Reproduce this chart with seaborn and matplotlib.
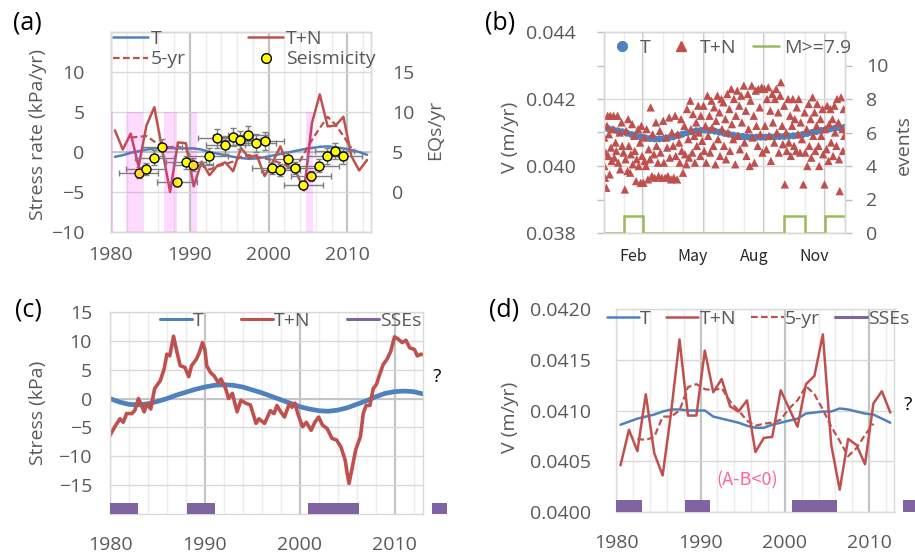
import numpy as np
import seaborn as sns
import matplotlib.pyplot as plt
from matplotlib.lines import Line2D
from matplotlib.ticker import MultipleLocator, FixedLocator, FormatStrFormatter

# -----------------
# Data
# -----------------
yr = np.arange(1980.5, 2013.0, 1.0)          # yearly points 1980.5 .. 2012.5
yr5 = np.arange(1982.5, 2011.0, 1.0)         # 5-yr running values 1982.5 .. 2010.5

# (a) stress rate, kPa/yr
a_t = [-0.6, -0.4, -0.1, 0.1, 0.3, 0.45, 0.5, 0.5, 0.45, 0.45, 0.45, 0.3, 0.0, -0.2, -0.4,
       -0.6, -0.75, -0.85, -0.8, -0.65, -0.45, -0.25, -0.05, 0.15, 0.35, 0.5, 0.65, 0.7,
       0.6, 0.45, 0.25, 0.0, -0.35]
a_tn = [2.7, 0.3, 2.3, -1.8, 3.3, 5.6, 0.3, -5.0, 1.2, 1.1, -4.3, -1.2, -2.9, -1.7, -1.3,
        -2.4, 0.5, -0.7, -0.4, -3.0, -1.3, 0.7, -1.9, -2.5, -4.8, 3.6, 7.2, 3.2, 3.3, 4.4,
        -0.5, -2.3, -1.0]
a_5yr = [1.8, 1.9, 2.0, 1.3, 0.6, 0.6, 0.7, 0.3, -1.2, -1.7, -2.2, -1.8, -1.5, -1.2, -0.6,
         -0.4, -0.6, -0.8, -1.0, -1.4, -1.8, -2.0, -0.2, 1.5, 3.0, 4.4, 3.4, 2.0, 0.5]
seis_year = [1983.5, 1984.4, 1985.5, 1986.5, 1988.4, 1989.5, 1990.4, 1992.4, 1993.5, 1994.5,
             1995.5, 1996.4, 1997.4, 1998.4, 1999.5, 2000.4, 2001.5, 2002.5, 2003.4, 2004.4,
             2005.4, 2006.4, 2007.4, 2008.4, 2009.4]
seis_rate = [2.4, 2.9, 4.3, 5.6, 1.2, 3.7, 3.4, 4.5, 6.7, 5.9, 6.9, 6.5, 7.1, 6.1, 6.4, 3.0,
             2.7, 4.1, 3.0, 0.9, 2.0, 3.3, 4.5, 5.1, 4.5]
seis_yerr = [0.7, 0.75, 0.9, 1.05, 0.5, 0.85, 0.8, 0.95, 1.15, 1.1, 1.15, 1.15, 1.2, 1.1, 1.15,
             0.8, 0.75, 0.9, 0.8, 0.45, 0.65, 0.8, 0.95, 1.0, 0.95]
seis_xerr = 2.5
pink_start = [1980.0, 1981.9, 1986.7, 1990.1, 2004.7]
pink_end = [1980.3, 1984.1, 1988.4, 1990.9, 2005.6]

# (b) velocity through one year (day of year)
t_day = list(range(0, 365, 7))
t_val = [0.04113, 0.04111, 0.04108, 0.04105, 0.04102, 0.04098, 0.04094, 0.04090, 0.04087,
         0.04084, 0.04082, 0.04081, 0.04081, 0.04082, 0.04084, 0.04087, 0.04091, 0.04095,
         0.04099, 0.04102, 0.04105, 0.04106, 0.04107, 0.04106, 0.04104, 0.04101, 0.04098,
         0.04095, 0.04092, 0.04090, 0.04088, 0.04087, 0.04086, 0.04086, 0.04086, 0.04086,
         0.04087, 0.04087, 0.04088, 0.04088, 0.04089, 0.04090, 0.04092, 0.04094, 0.04097,
         0.04100, 0.04103, 0.04106, 0.04109, 0.04111, 0.04113, 0.04114, 0.04115]
tn_day = [
    1, 1, 2, 3, 4, 5, 6, 7, 8, 9, 10, 11, 12, 14, 15, 16, 18, 19, 21, 22, 24, 25, 27, 28, 30,
    32, 33, 34, 36, 37, 38, 40, 41, 43, 44, 46, 47, 49, 50, 52, 53, 55, 56, 57, 58,
    60, 61, 62, 64, 65, 67, 68, 70, 71, 73, 74, 76, 77, 79, 80, 82, 83, 85, 86, 88,
    90, 91, 93, 94, 96, 97, 99, 100, 102, 103, 105, 106, 108, 109, 111, 112, 114, 115, 117, 118,
    120, 122, 123, 125, 126, 128, 129, 131, 132, 134, 135, 137, 138, 140, 141, 143, 144, 146, 147, 149,
    151, 152, 154, 155, 157, 158, 160, 161, 163, 164, 166, 167, 169, 170, 172, 173, 175, 176, 178, 179,
    181, 182, 184, 185, 187, 188, 190, 191, 193, 194, 196, 197, 199, 200, 202, 203, 205, 206, 208, 209,
    212, 213, 215, 216, 218, 219, 221, 222, 224, 225, 227, 228, 230, 231, 233, 234, 236, 237, 239, 240,
    243, 244, 246, 247, 249, 250, 252, 253, 255, 256, 258, 259, 261, 262, 264, 265, 267, 268, 270, 271,
    273, 274, 276, 277, 279, 280, 282, 283, 285, 286, 288, 289, 291, 292, 294, 295, 297, 298, 300, 302,
    304, 305, 307, 308, 310, 311, 313, 314, 316, 317, 319, 320, 322, 323, 325, 326, 328, 329, 331, 332,
    334, 335, 337, 338, 340, 341, 343, 344, 346, 347, 349, 350, 352, 353, 355, 356, 357, 359, 361, 362,
    363, 364]
tn_val = [
    0.04085, 0.04000, 0.03965, 0.04040, 0.03935, 0.04120, 0.04150, 0.04030, 0.04095, 0.03975,
    0.04150, 0.04055, 0.04015, 0.04110, 0.04150, 0.04025, 0.04070, 0.04045, 0.04150, 0.04010,
    0.04100, 0.03990, 0.04130, 0.04060, 0.04040,
    0.03930, 0.04020, 0.04105, 0.03985, 0.04140, 0.04060, 0.03980, 0.04035, 0.04125, 0.04005,
    0.04090, 0.04045, 0.03955, 0.04020, 0.04110, 0.04000, 0.04070, 0.03950, 0.04120, 0.04030,
    0.03950, 0.04085, 0.04015, 0.04000, 0.04110, 0.03960, 0.04050, 0.04020, 0.04175, 0.03970,
    0.04095, 0.04035, 0.03965, 0.04130, 0.04060, 0.04010, 0.03970, 0.04105, 0.04040, 0.03965,
    0.04135, 0.04010, 0.03965, 0.04085, 0.04055, 0.03970, 0.04145, 0.04025, 0.03960, 0.04100,
    0.04060, 0.03965, 0.04150, 0.04030, 0.03960, 0.04095, 0.04070, 0.04010, 0.04140, 0.04045,
    0.03980, 0.04120, 0.04035, 0.04005, 0.04170, 0.04080, 0.04025, 0.04195, 0.04110, 0.04040,
    0.04155, 0.04090, 0.04010, 0.04130, 0.04060, 0.04180, 0.04100, 0.04030, 0.04150, 0.04075,
    0.04180, 0.04045, 0.04120, 0.04010, 0.04210, 0.04090, 0.04150, 0.04040, 0.04195, 0.04115,
    0.04060, 0.04175, 0.04005, 0.04135, 0.04210, 0.04080, 0.04160, 0.04030, 0.04200, 0.04110,
    0.04190, 0.04060, 0.04140, 0.04020, 0.04215, 0.04100, 0.04170, 0.04045, 0.04230, 0.04125,
    0.04080, 0.04200, 0.04005, 0.04150, 0.04225, 0.04090, 0.04180, 0.04050, 0.04210, 0.04130,
    0.04240, 0.04070, 0.04165, 0.04030, 0.04215, 0.04110, 0.04000, 0.04195, 0.04240, 0.04085,
    0.04150, 0.04010, 0.04225, 0.04120, 0.04060, 0.04230, 0.04175, 0.04095, 0.04235, 0.04040,
    0.04230, 0.04120, 0.04050, 0.04200, 0.04235, 0.04090, 0.04165, 0.04015, 0.04215, 0.04130,
    0.04070, 0.04200, 0.04230, 0.04100, 0.04160, 0.04040, 0.04210, 0.04250, 0.04120, 0.04065,
    0.04180, 0.03945, 0.04100, 0.04045, 0.04200, 0.04070, 0.04150, 0.04030, 0.04120, 0.04200,
    0.04060, 0.04140, 0.04045, 0.04175, 0.04095, 0.04200, 0.04040, 0.04130, 0.04080, 0.03945,
    0.04160, 0.04040, 0.04110, 0.04000, 0.04185, 0.04060, 0.04140, 0.04025, 0.04205, 0.04090,
    0.04160, 0.04045, 0.04120, 0.04185, 0.04060, 0.04000, 0.04140, 0.04090, 0.04170, 0.04035,
    0.03945, 0.04110, 0.04050, 0.04180, 0.04015, 0.04125, 0.04170, 0.04070, 0.04140, 0.04030,
    0.04180, 0.04100, 0.04060, 0.04200, 0.04130, 0.04020, 0.03925, 0.04205, 0.04110, 0.04045,
    0.04170, 0.04090]
month_edges = [0, 31, 59, 90, 120, 151, 181, 212, 243, 273, 304, 334, 365]
big_eq_events = [0, 1, 0, 0, 0, 0, 0, 0, 0, 1, 0, 1]
month_ticks = [45, 135, 227, 319]
month_labels = ["Feb", "May", "Aug", "Nov"]

# (c) stress, kPa
c_t_year = list(range(1980, 2014))
c_t_val = [0.0, -0.6, -1.0, -1.1, -0.9, -0.5, 0.0, 0.6, 1.1, 1.6, 2.0, 2.3, 2.4, 2.3, 2.0,
           1.5, 1.0, 0.4, -0.2, -0.8, -1.4, -1.8, -2.1, -2.2, -2.0, -1.6, -1.0, -0.4, 0.3,
           0.9, 1.2, 1.3, 1.2, 0.8]
c_tn_year = [1980.0, 1980.5, 1981.05, 1981.4, 1981.75, 1982.3, 1982.6, 1983.0, 1983.3, 1983.6,
             1983.9, 1984.3, 1984.7, 1985.3, 1985.7, 1986.0, 1986.3, 1986.7, 1987.0, 1987.4,
             1987.9, 1988.3, 1988.6, 1989.1, 1989.4, 1989.75, 1990.0, 1990.2, 1990.6, 1991.0,
             1991.4, 1991.7, 1992.2, 1992.5, 1992.9, 1993.4, 1993.8, 1994.3, 1994.8, 1995.4,
             1995.7, 1996.3, 1996.9, 1997.3, 1997.6, 1998.0, 1998.4, 1998.9, 1999.2, 1999.5,
             1999.8, 2000.3, 2000.7, 2001.2, 2001.6, 2002.0, 2002.4, 2002.9, 2003.4, 2003.9,
             2004.35, 2004.8, 2005.0, 2005.2, 2005.5, 2005.9, 2006.4, 2006.7, 2007.0, 2007.4,
             2007.75, 2008.1, 2008.5, 2008.8, 2009.2, 2009.6, 2010.0, 2010.4, 2010.8, 2011.2,
             2011.6, 2012.1, 2012.4, 2012.8, 2013.0]
c_tn_val = [-6.4, -4.9, -3.5, -4.1, -2.6, -2.6, -2.1, 0.0, -1.1, -2.3,
            -0.9, -1.8, 1.7, 3.1, 5.1, 7.7, 7.4, 10.8, 8.5, 5.7,
            5.4, 3.8, 5.7, 6.8, 7.9, 9.7, 8.5, 5.7, 4.5, 3.9,
            2.8, 3.4, 1.7, 0.0, 0.9, -2.3, -0.3, -0.8, -1.1, -4.3,
            -3.5, -4.3, -2.1, -2.6, -1.2, -2.3, -3.2, -0.9, -1.5, -0.8,
            -2.6, -4.9, -4.1, -5.5, -4.1, -3.2, -4.6, -5.2, -6.9, -7.2,
            -8.4, -10.7, -12.9, -14.7, -12.3, -8.9, -6.6, -2.6, -1.2, -1.2,
            1.7, 2.5, 4.5, 5.9, 6.8, 8.2, 10.7, 10.3, 9.7, 10.1,
            8.8, 8.5, 7.4, 7.7, 7.6]
sse_start = [1980.0, 1988.1, 2000.9, 2014.0]
sse_end = [1983.0, 1991.1, 2006.2, 2015.5]

# (d) yearly velocity, m/yr
d_t = [0.04086, 0.04089, 0.04092, 0.04094, 0.04096, 0.04099, 0.04101, 0.04101, 0.04100,
       0.04100, 0.04100, 0.04094, 0.04092, 0.04090, 0.04088, 0.04085, 0.04083, 0.04083,
       0.04086, 0.04088, 0.04090, 0.04092, 0.04097, 0.04098, 0.04099, 0.04099, 0.04102,
       0.04101, 0.04099, 0.04097, 0.04096, 0.04092, 0.04088]
d_tn = [0.04046, 0.04081, 0.04060, 0.04116, 0.04058, 0.04036, 0.04098, 0.04170, 0.04095,
        0.04095, 0.04159, 0.04118, 0.04131, 0.04104, 0.04099, 0.04110, 0.04059, 0.04073,
        0.04074, 0.04120, 0.04102, 0.04084, 0.04126, 0.04134, 0.04175, 0.04066, 0.04022,
        0.04072, 0.04066, 0.04047, 0.04107, 0.04119, 0.04098]
d_5yr = [0.04072, 0.04071, 0.04074, 0.04094, 0.04094, 0.04100, 0.04123, 0.04126, 0.04121,
         0.04120, 0.04122, 0.04109, 0.04100, 0.04090, 0.04085, 0.04087, 0.04088, 0.04091,
         0.04102, 0.04110, 0.04124, 0.04116, 0.04101, 0.04084, 0.04070, 0.04055, 0.04063,
         0.04076, 0.04087]

# -----------------
# Style
# -----------------
sns.set_theme(style="white")
plt.rcParams["font.family"] = ["Open Sans", "DejaVu Sans"]
GRAY = "#595959"
BLUE, RED, PURPLE, GREEN = "#4F81BD", "#C0504D", "#8064A2", "#9BBB59"
GRID, GRID_MINOR, GRID_MAJOR = "#D9D9D9", "#ECECEC", "#C4C4C4"
FS = 14
W, H = 915, 554

fig = plt.figure(figsize=(W / 100, H / 100), dpi=100)


def rect(x0, y0, x1, y1):
    return [x0 / W, 1 - y1 / H, (x1 - x0) / W, (y1 - y0) / H]


def fpos(x, y):
    return (x / W, 1 - y / H)


def frame(ax):
    for s in ax.spines.values():
        s.set_color(GRID)
        s.set_linewidth(1.0)
    ax.tick_params(which="both", colors=GRAY, labelsize=FS, length=0)


def year_grid(ax):
    ax.xaxis.set_major_locator(MultipleLocator(10))
    ax.xaxis.set_minor_locator(MultipleLocator(2))
    ax.grid(which="major", axis="x", color=GRID_MAJOR, lw=1.6)
    ax.grid(which="minor", axis="x", color=GRID_MINOR, lw=1.0)
    ax.grid(which="major", axis="y", color=GRID, lw=1.0)
    ax.set_axisbelow(True)


def legend_text_gray(leg):
    for t in leg.get_texts():
        t.set_color(GRAY)


def ylab(text, x, y):
    fig.text(*fpos(x, y), text, rotation=90, ha="center", va="center", color=GRAY, fontsize=FS)


# -----------------
# (a) stress rate + seismicity
# -----------------
axA = fig.add_axes(rect(111, 32, 371, 232))
year_grid(axA)
axA.axhline(0, color="#BFBFBF", lw=1.2, zorder=0.8)
sns.lineplot(x=yr, y=a_t, ax=axA, color=BLUE, lw=1.8)
sns.lineplot(x=yr, y=a_tn, ax=axA, color=RED, lw=1.8)
sns.lineplot(x=yr5, y=a_5yr, ax=axA, color=RED, lw=1.6, linestyle=(0, (3, 1.5)))
axA.set_xlim(1980, 2013)
axA.set_ylim(-10, 15)
axA.set_yticks([-10, -5, 0, 5, 10])
axA.set_yticks([15], minor=True)
axA.grid(which="minor", axis="y", color=GRID, lw=1.0)
frame(axA)
axA.tick_params(axis="y", pad=19)
axA.tick_params(axis="x", pad=10)
axA.set_xlabel("")
axA.set_ylabel("")

axA2 = axA.twinx()
axA2.set_ylim(-5, 20)
axA2.set_yticks([0, 5, 10, 15])
axA2.errorbar(seis_year, seis_rate, xerr=seis_xerr, yerr=seis_yerr, fmt="none",
              ecolor="#7F7F7F", elinewidth=1.0, capsize=2.5, capthick=1.0, zorder=2)
sns.scatterplot(x=seis_year, y=seis_rate, ax=axA2, color="#FFFF00", edgecolor="black",
                linewidth=1.0, s=42, zorder=3)
axA2.bar(pink_start, 15, width=np.subtract(pink_end, pink_start), bottom=-5, align="edge",
         color="#FF00FF", alpha=0.14, lw=0, zorder=5)
frame(axA2)
axA2.tick_params(axis="y", pad=15)
axA2.set_ylabel("")

legA = axA2.legend(
    [Line2D([], [], color=BLUE, lw=1.8),
     Line2D([], [], color=RED, lw=1.6, ls=(0, (3, 1.5))),
     Line2D([], [], color=RED, lw=1.8),
     Line2D([], [], ls="none", marker="o", mfc="#FFFF00", mec="black", ms=7)],
    ["T", "5-yr", "T+N", "Seismicity"], ncol=2, loc="upper left",
    bbox_to_anchor=fpos(113, 30), bbox_transform=fig.transFigure, frameon=False,
    fontsize=FS, handlelength=1.8, handletextpad=0.15, columnspacing=3.2,
    labelspacing=0.12, borderpad=0, borderaxespad=0)
legend_text_gray(legA)
ylab("Stress rate (kPa/yr)", 38, 135)
ylab("EQs/yr", 435, 130)

# -----------------
# (b) one-year velocity + M>=7.9 events
# -----------------
axB = fig.add_axes(rect(603.7, 32, 845, 233))
frame(axB)
sns.scatterplot(x=t_day, y=t_val, ax=axB, color=BLUE, marker="o", s=26, edgecolor="none",
                zorder=2)
sns.scatterplot(x=tn_day, y=tn_val, ax=axB, color=RED, marker="^", s=36, edgecolor="none",
                zorder=3)
axB.set_xlim(0, 365)
axB.set_ylim(0.038, 0.044)
axB.set_yticks([0.038, 0.040, 0.042, 0.044])
axB.yaxis.set_minor_locator(FixedLocator([0.039, 0.041, 0.043]))
axB.yaxis.set_major_formatter(FormatStrFormatter("%.3f"))
axB.tick_params(axis="y", which="both", direction="out", length=5, width=1,
                color="#BFBFBF", pad=15)
axB.set_xticks(month_ticks, month_labels)
axB.xaxis.set_minor_locator(FixedLocator(month_edges))
axB.tick_params(axis="x", which="both", length=0, pad=11)
for lab in axB.get_xticklabels():
    lab.set_fontfamily(["Noto Sans CJK JP", "DejaVu Sans"])
    lab.set_fontsize(11.5)
    lab.set_color("#262626")
axB.grid(which="major", axis="y", color=GRID, lw=1.0)
axB.grid(which="minor", axis="x", color=GRID_MINOR, lw=1.0)
for d in month_edges[2::3]:
    axB.axvline(d, color=GRID_MAJOR, lw=1.5, zorder=0.5)
axB.set_axisbelow(True)
axB.set_xlabel("")
axB.set_ylabel("")

axB2 = axB.twinx()
frame(axB2)
axB2.stairs(big_eq_events, month_edges, baseline=None, color=GREEN, lw=1.8)
axB2.set_ylim(0, 12)
axB2.set_yticks([0, 2, 4, 6, 8, 10])
axB2.tick_params(axis="y", direction="out", length=5, width=1, color="#BFBFBF", pad=10)

legB = axB2.legend(
    [Line2D([], [], ls="none", marker="o", color=BLUE, ms=7),
     Line2D([], [], ls="none", marker="^", color=RED, ms=7),
     Line2D([], [], color=GREEN, lw=1.8)],
    ["T", "T+N", "M>=7.9"], ncol=3, loc="upper left",
    bbox_to_anchor=fpos(609, 39), bbox_transform=fig.transFigure, frameon=False,
    fontsize=FS, handlelength=1.3, handletextpad=0.3, columnspacing=0.9,
    borderpad=0, borderaxespad=0)
legend_text_gray(legB)
ylab("V (m/yr)", 510, 137)
ylab("events", 904, 145)

# -----------------
# (c) stress time series
# -----------------
axC = fig.add_axes(rect(110, 312, 423, 514))
year_grid(axC)
axC.axhline(0, color="#BFBFBF", lw=1.2, zorder=0.8)
sns.lineplot(x=c_t_year, y=c_t_val, ax=axC, color=BLUE, lw=3.4)
sns.lineplot(x=c_tn_year, y=c_tn_val, ax=axC, color=RED, lw=2.6)
axC.barh(-19, np.subtract(sse_end, sse_start), left=sse_start, height=1.95,
         color=PURPLE, lw=0, clip_on=False, zorder=4)
axC.set_xlim(1980, 2013)
axC.set_ylim(-20, 15)
axC.set_yticks([-15, -10, -5, 0, 5, 10, 15])
frame(axC)
axC.tick_params(axis="y", pad=13)
axC.tick_params(axis="x", pad=16)
axC.set_xlabel("")
axC.set_ylabel("")
legC = axC.legend(
    [Line2D([], [], color=BLUE, lw=2.2), Line2D([], [], color=RED, lw=2.2),
     Line2D([], [], color=PURPLE, lw=2.2)],
    ["T", "T+N", "SSEs"], ncol=3, loc="upper left",
    bbox_to_anchor=fpos(160, 312), bbox_transform=fig.transFigure, frameon=False,
    fontsize=FS, handlelength=1.65, handletextpad=0.05, columnspacing=1.9,
    borderpad=0, borderaxespad=0)
legend_text_gray(legC)
fig.text(*fpos(437, 377), "?", ha="center", va="center", fontsize=14, color="black")
ylab("Stress (kPa)", 38, 413)

# -----------------
# (d) yearly velocity
# -----------------
axD = fig.add_axes(rect(616.3, 309, 894.5, 512))
year_grid(axD)
sns.lineplot(x=yr, y=d_t, ax=axD, color=BLUE, lw=1.8)
sns.lineplot(x=yr, y=d_tn, ax=axD, color=RED, lw=1.8)
sns.lineplot(x=yr5, y=d_5yr, ax=axD, color=RED, lw=1.6, linestyle=(0, (3, 1.5)))
axD.barh(0.0400575, np.subtract(sse_end, sse_start), left=sse_start, height=0.000115,
         color=PURPLE, lw=0, clip_on=False, zorder=4)
axD.set_xlim(1980, 2013)
axD.set_ylim(0.0400, 0.0420)
axD.yaxis.set_major_locator(MultipleLocator(0.0005))
axD.yaxis.set_major_formatter(FormatStrFormatter("%.4f"))
frame(axD)
axD.tick_params(axis="y", pad=18)
axD.tick_params(axis="x", pad=16)
axD.set_xlabel("")
axD.set_ylabel("")
legD = axD.legend(
    [Line2D([], [], color=BLUE, lw=1.8), Line2D([], [], color=RED, lw=1.8),
     Line2D([], [], color=RED, lw=1.6, ls=(0, (3, 1.5))), Line2D([], [], color=PURPLE, lw=2.2)],
    ["T", "T+N", "5-yr", "SSEs"], ncol=4, loc="upper left",
    bbox_to_anchor=fpos(607, 310), bbox_transform=fig.transFigure, frameon=False,
    fontsize=FS, handlelength=1.65, handletextpad=0.05, columnspacing=0.8,
    borderpad=0, borderaxespad=0)
legend_text_gray(legD)
fig.text(*fpos(747, 480), "(A-B<0)", ha="center", va="center", fontsize=13,
         color="#FF6699", family=["Noto Sans CJK JP", "DejaVu Sans"])
fig.text(*fpos(908, 405), "?", ha="center", va="center", fontsize=14, color="black")
ylab("V (m/yr)", 510, 417)

# panel letters
for lab, (x, y) in zip(["(a)", "(b)", "(c)", "(d)"],
                       [(27, 23), (500, 23), (28, 310), (504, 310)]):
    fig.text(*fpos(x, y), lab, ha="center", va="center", fontsize=18, color="black")

fig.savefig("out.png", dpi=100)
plt.close(fig)
